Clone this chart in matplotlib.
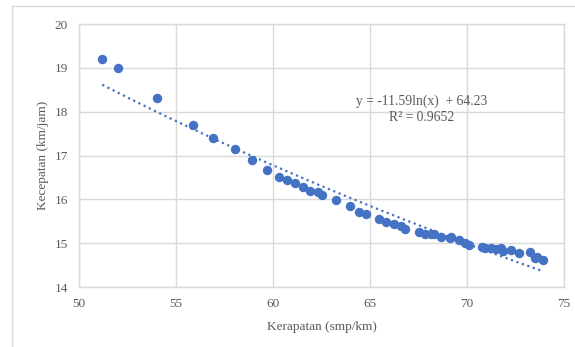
import numpy as np
import matplotlib
matplotlib.use("Agg")
import matplotlib.pyplot as plt
from matplotlib.patches import Rectangle

# kerapatan (smp/km) vs kecepatan (km/jam)
kerapatan = [51.2, 52.0, 54.0, 55.9, 56.9, 58.05, 58.9, 59.7, 60.3, 60.73,
             61.14, 61.55, 61.9, 62.3, 62.5, 63.27, 63.97, 64.43, 64.78, 65.46,
             65.84, 66.22, 66.58, 66.79, 67.52, 67.82, 68.16, 68.3, 68.68, 69.1,
             69.2, 69.58, 69.88, 70.1, 70.79, 70.91, 71.25, 71.51, 71.77, 71.85,
             72.28, 72.67, 73.27, 73.5, 73.6, 73.91]
kecepatan = [19.2, 19.0, 18.32, 17.69, 17.41, 17.14, 16.9, 16.66, 16.52, 16.44,
             16.37, 16.27, 16.2, 16.17, 16.11, 15.98, 15.85, 15.72, 15.66, 15.55,
             15.48, 15.44, 15.4, 15.33, 15.25, 15.22, 15.2, 15.21, 15.15, 15.11,
             15.13, 15.07, 15.01, 14.96, 14.92, 14.88, 14.9, 14.86, 14.9, 14.82,
             14.84, 14.78, 14.8, 14.67, 14.69, 14.62]

# trend line shown on the chart
koef_a = -11.59
koef_b = 64.23
label_eq = "y = -11.59ln(x)  + 64.23"
label_r2 = "R\u00b2 = 0.9652"

x_ticks = [50, 55, 60, 65, 70, 75]
y_ticks = [14, 15, 16, 17, 18, 19, 20]

biru = "#4472C4"
abu = "#595959"
grid = "#D9D9D9"

plt.rcParams["font.family"] = ["Liberation Serif", "DejaVu Serif"]

fig = plt.figure(figsize=(5.75, 3.47), dpi=100)
ax = fig.add_axes([79 / 575, 1 - 287 / 347, 485 / 575, 263 / 347])

# outer chart border
fig.patches.append(Rectangle((12 / 575, -0.05), 1.1, 1 - 6 / 347 + 0.05,
                             transform=fig.transFigure, fill=False,
                             edgecolor="#D9D9D9", linewidth=1))

xt = np.linspace(min(kerapatan), max(kerapatan), 200)
ax.plot(xt, koef_a * np.log(xt) + koef_b, linestyle=(0, (1, 1.6)),
        color=biru, linewidth=1.6, zorder=2)
ax.scatter(kerapatan, kecepatan, s=46, color=biru, zorder=3, linewidths=0)

ax.set_xlim(50, 75)
ax.set_ylim(14, 20)
ax.set_xticks(x_ticks)
ax.set_yticks(y_ticks)
ax.grid(True, color=grid, linewidth=1)
ax.set_axisbelow(True)
for s in ax.spines.values():
    s.set_color(grid)
    s.set_linewidth(1)
ax.tick_params(length=0, labelsize=9.5, colors=abu, pad=8)

ax.set_xlabel("Kerapatan (smp/km)", fontsize=9.5, color=abu, labelpad=8)
ax.set_ylabel("Kecepatan (km/jam)", fontsize=9.5, color=abu, labelpad=4)

ax.text(67.64, 18.23, label_eq, ha="center", va="center", fontsize=9.8, color=abu)
ax.text(67.64, 17.87, label_r2, ha="center", va="center", fontsize=9.8, color=abu)

fig.savefig("out.png", dpi=100)
